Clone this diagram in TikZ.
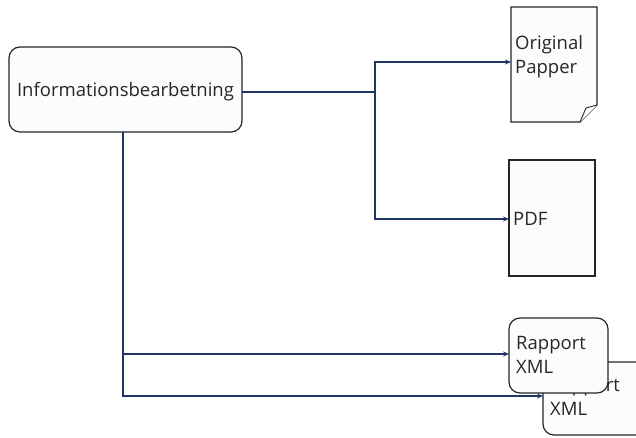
\documentclass[tikz,border=0pt]{standalone}
\usepackage{fontspec}
\setmainfont{Open Sans}
\usetikzlibrary{arrows.meta}
\definecolor{linec}{HTML}{1F3566}
\definecolor{boxfill}{HTML}{FAFCFD}
\begin{document}
\begin{tikzpicture}[x=1pt,y=-1pt,
  conn/.style={draw=linec,line width=1.1pt,-{Stealth[length=6pt,width=5pt]}},
  plain/.style={draw=linec,line width=1.1pt},
  rbox/.style={draw=black!85,line width=1.2pt,fill=boxfill,rounded corners=11pt},
  lbl/.style={font=\fontsize{18.5}{24}\selectfont,text=black!85,align=left,inner sep=0pt,anchor=west}]
\useasboundingbox (0,0) rectangle (636,437);
\clip (0,0) rectangle (636,437);
% boxes
\draw[rbox] (9,47) rectangle (242,132);
\node[lbl,anchor=center] (info) at (125.5,92) {Informationsbearbetning};
\coordinate (infoR) at (242,92);
\coordinate (infoB) at (123,132);
% Original Papper document
\draw[draw=black!85,line width=1.2pt,fill=boxfill] (511,7) -- (597,7) -- (597,105) -- (580,122) -- (511,122) -- cycle;
\draw[draw=black!85,line width=0.9pt,fill=white] (597,105) -- (586,108) -- (580,122);
\node[lbl] (orig) at (515,57) {Original\\Papper};
\coordinate (origL) at (511,62);
% PDF
\draw[draw=black!85,line width=1.2pt,fill=boxfill] (509,160) rectangle (595,276);
\node[lbl] (pdf) at (513,219) {PDF};
\coordinate (pdfL) at (509,219);
% Rapport XML back
\draw[rbox] (543,362) rectangle (660,435);
\node[lbl] (rap2) at (550,397) {Rapport\\XML};
% Rapport XML front
\draw[rbox] (509,318) rectangle (608,393);
\node[lbl] (rap1) at (516,355) {Rapport\\XML};
\coordinate (rap1L) at (509,354);
\coordinate (rap2L) at (543,396);
% connectors
\coordinate (j1) at (375,92);
\draw[plain] (infoR) -- (j1);
\draw[conn] (j1) |- (origL);
\draw[conn] (j1) |- (pdfL);
\coordinate (j2) at (123,354);
\draw[conn] (infoB) -- (j2) -- (rap1L);
\draw[conn] (j2) |- (rap2L);
\end{tikzpicture}
\end{document}
